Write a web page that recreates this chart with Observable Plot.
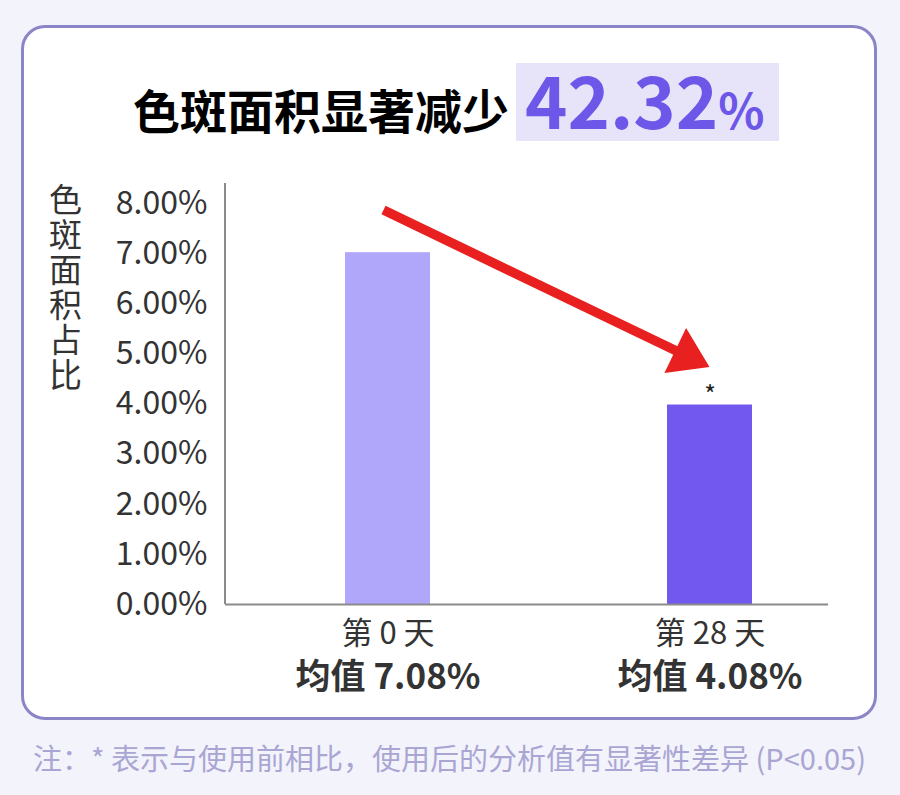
<!DOCTYPE html>
<html>
<head>
<meta charset="utf-8">
<script src="https://cdn.jsdelivr.net/npm/d3@7"></script>
<script src="https://cdn.jsdelivr.net/npm/@observablehq/plot@0.6"></script>
<style>
  html, body { margin: 0; padding: 0; background: #f3f3fb; }
  #page { position: relative; width: 900px; height: 795px; overflow: hidden; background: #f3f3fb;
          font-family: "Noto Sans CJK SC", "Noto Sans", sans-serif; }
  #card { position: absolute; left: 21px; top: 25px; width: 850px; height: 689px;
          border: 3px solid #8b85c7; border-radius: 24px; background: #ffffff; }
  #hl { position: absolute; left: 516px; top: 63px; width: 263px; height: 78px; background: #e7e4fa; }
  #title { position: absolute; left: 133px; top: 62px; height: 80px; display: flex; align-items: baseline;
           white-space: nowrap; line-height: 1; }
  #title .t1 { font-size: 47px; font-weight: 700; color: #000; }
  #title .t2 { font-size: 72px; font-weight: 700; color: #6d57e8; margin-left: 16px; }
  #title .t3 { font-size: 48px; font-weight: 700; color: #6d57e8; }
  #chart { position: absolute; left: 0; top: 0; }
  #chart svg g[aria-label^="x-axis"] text { font-size: 31px; }
  #chart svg g[aria-label^="y-axis"] text { font-size: 32px; }
  #note { position: absolute; left: 33px; top: 737px; font-size: 29px; color: #a9a6d3; white-space: nowrap; line-height: 40px; }
</style>
</head>
<body>
<div id="page">
  <div id="card"></div>
  <div id="hl"></div>
  <div id="title"><span class="t1">色斑面积显著减少</span><span class="t2">42.32</span><span class="t3">%</span></div>
  <div id="chart"></div>
  <div id="note">注：* 表示与使用前相比，使用后的分析值有显著性差异 (P&lt;0.05)</div>
</div>
<script>
// ---- data ----
const days = ["第 0 天", "第 28 天"];
const barValues = [7.02, 3.98];
const meanValues = [7.08, 4.08];
const significance = ["", "*"];
const barColors = ["#b0a7fb", "#7358ef"];
const yTicks = [0, 1, 2, 3, 4, 5, 6, 7, 8];
const yLabel = "色斑面积占比";
const arrowDays = ["第 0 天", "第 28 天"];
const arrowValues = [7.86, 4.73];

const data = days.map((d, i) => ({day: d, value: barValues[i], mean: meanValues[i], sig: significance[i]}));

function arrowMark(index, scales, values, dimensions) {
  const sx = scales.x, sy = scales.y;
  const bw = typeof sx.bandwidth === "function" ? sx.bandwidth() : (sx.bandwidth || 0);
  const px = d => sx(d) + bw / 2;
  const g = d3.create("svg:g");
  // vertical axis line
  g.append("line")
    .attr("x1", dimensions.marginLeft).attr("x2", dimensions.marginLeft)
    .attr("y1", dimensions.marginTop).attr("y2", dimensions.height - dimensions.marginBottom)
    .attr("stroke", "#8a8a8a").attr("stroke-width", 2);
  const x0 = px(arrowDays[0]) - 4, y0 = sy(arrowValues[0]);
  const x1 = px(arrowDays[1]), y1 = sy(arrowValues[1]);
  const len = Math.hypot(x1 - x0, y1 - y0);
  const ux = (x1 - x0) / len, uy = (y1 - y0) / len;
  const L = 38, W = 25;
  const bx = x1 - L * ux, by = y1 - L * uy;
  g.append("line")
    .attr("x1", x0).attr("y1", y0).attr("x2", bx + 2 * ux).attr("y2", by + 2 * uy)
    .attr("stroke", "#e8201f").attr("stroke-width", 9.5);
  g.append("polygon")
    .attr("points", [[x1, y1], [bx - W * uy, by + W * ux], [bx + W * uy, by - W * ux]].map(p => p.join(",")).join(" "))
    .attr("fill", "#e8201f");
  return g.node();
}

const chart = Plot.plot({
  width: 900,
  height: 795,
  marginLeft: 225,
  marginRight: 72,
  marginTop: 183,
  marginBottom: 191,
  style: {background: "transparent", fontFamily: "'Noto Sans CJK SC', 'Noto Sans', sans-serif", fontSize: "31px", color: "#333"},
  x: {domain: days, paddingInner: 0.736, paddingOuter: 0.303, align: 0.614, label: null, tickSize: 0, tickPadding: 17},
  y: {domain: [0, 8.4], ticks: yTicks, tickFormat: d => d.toFixed(2) + "%", tickSize: 0, tickPadding: 18, label: null},
  color: {domain: days, range: barColors},
  marks: [
    Plot.barY(data, {x: "day", y: "value", fill: "day"}),
    Plot.ruleY([0], {stroke: "#8a8a8a", strokeWidth: 2}),
    Plot.text(data, {x: "day", y: "value", text: "sig", fontSize: 25, fill: "#222", dy: -9}),
    Plot.text(data, {x: "day", text: d => "均值 " + d.mean.toFixed(2) + "%", frameAnchor: "bottom", lineAnchor: "middle", dy: 73, fontSize: 35, fontWeight: "bold", fill: "#333"}),
    Plot.text([yLabel], {text: d => d.split("").join("\n"), frameAnchor: "top-left", textAnchor: "middle", lineAnchor: "top", lineHeight: 1.06, dx: -160, dy: 4, fontSize: 33, fill: "#333"}),
    arrowMark
  ]
});
document.getElementById("chart").appendChild(chart);
</script>
</body>
</html>
